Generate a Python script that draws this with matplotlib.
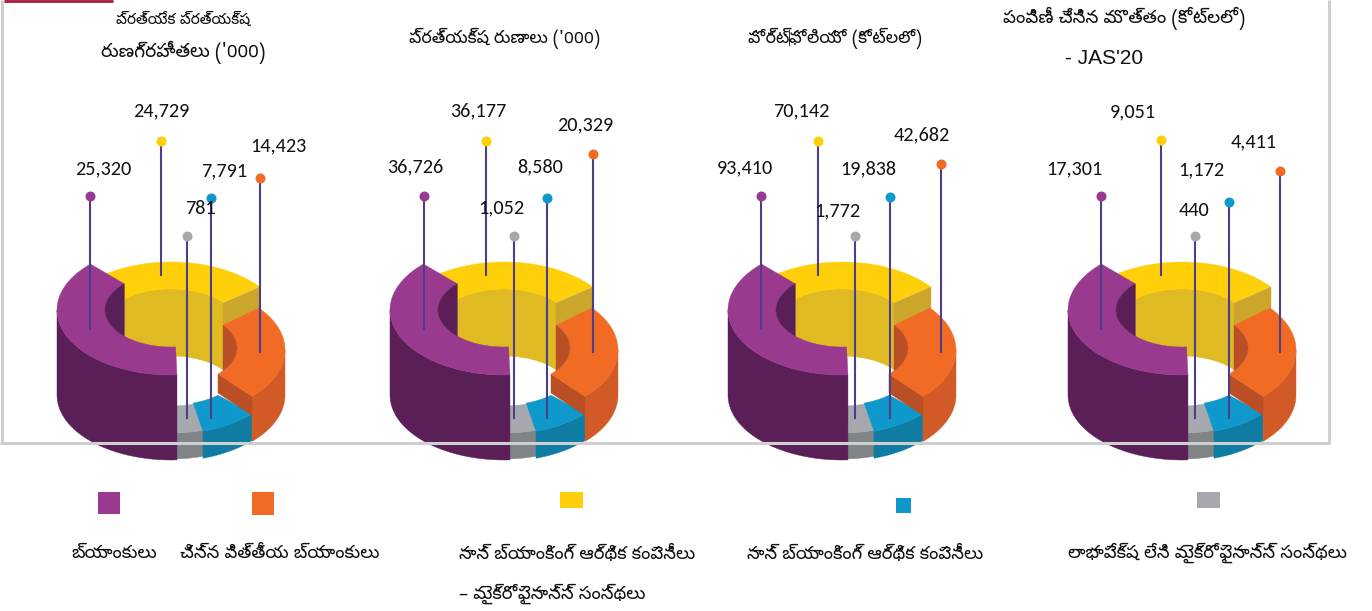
import matplotlib
matplotlib.use('Agg')
import matplotlib.pyplot as plt
import numpy as np

# ---- data ----
titles = [["ప్రత్యేక ప్రత్యక్ష", "రుణగ్రహీతలు ('000)"],
          ["ప్రత్యక్ష రుణాలు ('000)"],
          ["పోర్ట్‌ఫోలియో (కోట్లలో)"],
          ["పంపిణీ చేసిన మొత్తం (కోట్లలో)", "- JAS'20"]]
# order: banks, nbfc-mfi, not for profit, nbfc, small finance banks
banks = [25320, 36726, 93410, 17301]
nbfc_mfi = [24729, 36177, 70142, 9051]
not_profit = [781, 1052, 1772, 440]
nbfc = [7791, 8580, 19838, 1172]
small_banks = [14423, 20329, 42682, 4411]

legend_labels = [["బ్యాంకులు"],
                 ["చిన్న విత్తీయ బ్యాంకులు"],
                 ["నాన్ బ్యాంకింగ్ ఆర్థిక కంపెనీలు", "– మైక్రోఫైనాన్స్ సంస్థలు"],
                 ["నాన్ బ్యాంకింగ్ ఆర్థిక కంపెనీలు"],
                 ["లాభాపేక్ష లేని మైక్రోఫైనాన్స్ సంస్థలు"]]

# ---- layout (pixels) ----
purple, purple_d = '#993A8F', '#5A1F57'
yellow, yellow_w, yellow_e = '#FFCF0A', '#DFBA22', '#CCA62B'
orange, orange_s, orange_d = '#F26B25', '#D25A26', '#BA4F25'
blue, blue_s = '#0E98CB', '#0F7CA3'
gray, gray_s = '#A5A9AD', '#7F8486'
stem_c = '#4B3F8C'

donut_dx = [0, 333, 671, 1011]
series = [banks, nbfc_mfi, not_profit, nbfc, small_banks]
series_c = [purple, yellow, gray, blue, orange]
stem_x = [[90, 161, 187, 211, 260], [424, 486, 514, 547, 593],
          [761, 818, 855, 890, 941], [1101, 1161, 1195, 1229, 1280]]
stem_top = [[196, 141, 236, 198, 178], [196, 141, 236, 198, 154],
            [196, 141, 236, 197, 164], [196, 140, 236, 202, 171]]
stem_end = [329, 275, 418, 418, 352]
label_x = [[103, 161, 200, 224, 278], [415, 478, 501, 540, 585],
           [745, 801, 837, 868, 922], [1074, 1133, 1194, 1201, 1254]]
label_y = [[169, 111, 208, 171, 146], [167, 111, 208, 167, 125],
           [168, 111, 211, 169, 135], [169, 112, 211, 170, 142]]
title_x = [[183, 183], [505], [835], [1124, 1104]]
title_y = [[18, 52], [38], [38], [18, 58]]
title_fs = [[11, 13.5], [12.5], [12.5], [13.2, 15]]

swatch = [(98, 492, 22, 22), (252, 492, 22, 23), (560, 492, 23, 16),
          (896, 498, 15, 15), (1197, 492, 23, 16)]
legend_x = [114, 280, 459, 747, 1068]
legend_ha = ['center', 'center', 'left', 'left', 'left']
legend_y = [553, 594]

tel = ['Noto Sans Telugu UI', 'Carlito', 'DejaVu Sans']

fig = plt.figure(figsize=(13.72, 6.11), dpi=100)
ax = fig.add_axes([0, 0, 1, 1])
ax.set_xlim(0, 1372)
ax.set_ylim(611, 0)
ax.axis('off')


def arc(cx, cy, rx, ry, a0, a1):
    t = np.radians(np.linspace(a0, a1, 60))
    return np.column_stack([cx + rx * np.cos(t), cy + ry * np.sin(t)])


def poly(pts, c, z):
    ax.fill(pts[:, 0], pts[:, 1], color=c, lw=0.3, zorder=z)


def side(top, h):
    return np.vstack([top, (top + [0, h])[::-1]])


def donut(cx):
    rx, ix = 114, 66
    # yellow
    y_in = arc(cx, 324, ix, 35, 225, 322)
    poly(np.vstack([y_in, arc(cx, 392, ix, 36, 322, 225)]), yellow_w, 2)
    poly(np.vstack([arc(cx, 329, rx, 67, 236, 321), y_in[::-1]]), yellow, 2)
    poly(np.array([[cx + 52, 303], [cx + 89, 287], [cx + 89, 309], [cx + 52, 325]]), yellow_e, 2)
    # gray
    g_out = arc(cx, 365, rx, 68, 73.7, 87)
    poly(side(g_out, 26), gray_s, 3)
    poly(np.vstack([g_out, arc(cx, 372, ix, 34, 87, 70.5)]), gray, 3)
    # blue
    b_out = arc(cx, 365, rx, 69, 44.7, 73.7)
    poly(side(b_out, 27), blue_s, 3)
    poly(np.vstack([b_out, arc(cx, 372, ix, 33, 70.5, 44.6)]), blue, 3)
    # orange
    o_out = arc(cx, 350, rx, 66, -39.5, 44.7)
    o_in = arc(cx, 348, ix, 37, 44.6, -38)
    poly(side(arc(cx, 350, rx, 66, 0, 44.7), 45), orange_s, 4)
    poly(side(np.vstack([o_in[0], o_out[-1]]), 19), orange_d, 4)
    poly(np.vstack([o_out, o_in]), orange, 4)
    poly(arc(cx, 348, ix, 37, -38, 38), orange_d, 4)
    # purple
    poly(side(arc(cx, 310, rx, 65, 180, 87), 85), purple_d, 5)
    poly(np.vstack([arc(cx, 310, rx, 65, 225, 87), arc(cx, 310, ix, 37, 86, 225)]), purple, 5)
    poly(arc(cx, 310, ix, 37, 135, 225), purple_d, 5)


for k in range(4):
    donut(171 + donut_dx[k])
    for i in range(5):
        ax.plot([stem_x[k][i]] * 2, [stem_top[k][i], stem_end[i]], color=stem_c, lw=1.5, zorder=7)
        ax.plot(stem_x[k][i], stem_top[k][i], 'o', color=series_c[i], ms=7.2, mew=0, zorder=8)
        ax.text(label_x[k][i], label_y[k][i], f'{series[i][k]:,}', family='Carlito', fontsize=14.6,
                ha='center', va='center', color='#111111', zorder=9)
    for j in range(len(titles[k])):
        fam = ['Liberation Sans'] if titles[k][j].startswith('-') else tel
        ax.text(title_x[k][j], title_y[k][j], titles[k][j], family=fam, fontsize=title_fs[k][j],
                ha='center', va='center', color='#111111')

# frame on top of the donuts
ax.plot([2, 2], [0, 443], color='#CFCFCF', lw=2.2, zorder=10, solid_capstyle='butt')
ax.plot([0, 1330], [443, 443], color='#CFCFCF', lw=2.2, zorder=10, solid_capstyle='butt')
ax.plot([1329, 1329], [0, 443], color='#CFCFCF', lw=2.2, zorder=10, solid_capstyle='butt')
ax.plot([4, 113], [1, 1], color='#A6193C', lw=2, zorder=10, solid_capstyle='butt')

# legend
for i in range(5):
    x, y, w, h = swatch[i]
    ax.fill([x, x + w, x + w, x], [y, y, y + h, y + h], color=series_c[[0, 4, 1, 3, 2][i]], lw=0)
    for j in range(len(legend_labels[i])):
        ax.text(legend_x[i], legend_y[j], legend_labels[i][j], family=tel, fontsize=13,
                ha=legend_ha[i], va='center', color='#111111')

fig.savefig('out.png', dpi=100)
